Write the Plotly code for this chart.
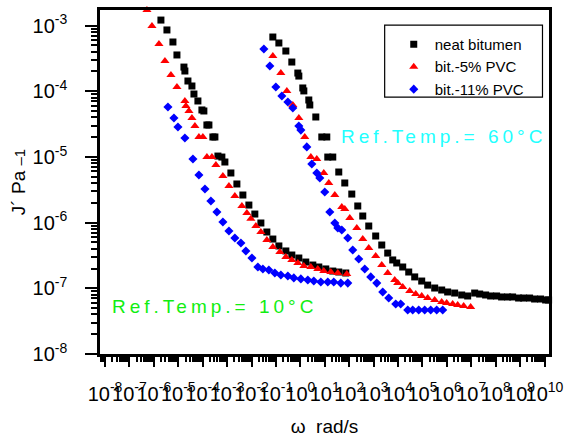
import plotly.graph_objects as go

# ---------------- data (omega in rad/s, J' in 1/Pa) ----------------
omega_neat_10C = [5.74e-7, 1.95e-6, 3.44e-6, 6.05e-6, 8.83e-6, 1.71e-5, 1.87e-5, 2.49e-5, 3.63e-5, 4.39e-5,
                  6.38e-5, 9.31e-5, 1.12e-4, 1.49e-4, 1.80e-4, 2.62e-4, 3.17e-4, 4.21e-4, 6.12e-4, 8.13e-4,
                  1.43e-3, 2.52e-3, 4.43e-3, 7.80e-3, 1.37e-2, 2.42e-2, 4.25e-2, 7.48e-2, 0.132, 0.255,
                  0.448, 0.867, 1.67, 3.24, 5.70, 11.0, 21.3, 37.5, 72.6]
jp_neat_10C = [2.05e-3, 1.21e-3, 8.55e-4, 5.61e-4, 3.56e-4, 2.33e-4, 2.03e-4, 1.43e-4, 1.20e-4, 9.06e-5,
               7.10e-5, 5.18e-5, 5.00e-5, 3.06e-5, 3.06e-5, 2.01e-5, 2.01e-5, 1.03e-5, 9.95e-6, 8.36e-6,
               5.69e-6, 3.87e-6, 2.63e-6, 1.85e-6, 1.35e-6, 9.86e-7, 7.19e-7, 5.62e-7, 4.41e-7, 3.70e-7,
               3.21e-7, 2.89e-7, 2.51e-7, 2.26e-7, 2.11e-7, 1.97e-7, 1.83e-7, 1.77e-7, 1.71e-7]
omega_neat_60C = [7.48e-2, 0.132, 0.255, 0.448, 0.789, 0.867, 1.26, 1.39, 2.22, 2.44,
                  4.30, 7.57, 12.1, 13.3, 21.3, 37.5, 66.1, 128, 225, 360,
                  634, 1.22e3, 2.16e3, 3.79e3, 6.08e3, 8.87e3, 1.56e4, 2.75e4, 4.83e4, 9.35e4,
                  1.64e5, 3.18e5, 6.15e5, 1.08e6, 2.09e6, 4.05e6, 7.13e6, 1.38e7, 2.21e7, 3.88e7,
                  6.22e7, 1.09e8, 1.75e8, 3.08e8, 4.94e8, 8.69e8, 1.39e9, 2.45e9, 3.93e9, 6.92e9,
                  1.11e10, 1.47e10]
jp_neat_60C = [6.68e-4, 5.42e-4, 4.09e-4, 2.78e-4, 1.89e-4, 1.70e-4, 1.12e-4, 1.01e-4, 7.35e-5, 6.17e-5,
               4.05e-5, 2.01e-5, 2.01e-5, 9.95e-6, 9.95e-6, 5.89e-6, 4.01e-6, 2.72e-6, 1.79e-6, 1.26e-6,
               8.87e-7, 6.25e-7, 4.56e-7, 3.44e-7, 2.70e-7, 2.43e-7, 2.11e-7, 1.77e-7, 1.49e-7, 1.29e-7,
               1.12e-7, 1.01e-7, 9.42e-8, 8.79e-8, 8.47e-8, 7.91e-8, 7.64e-8, 8.47e-8, 8.18e-8, 7.91e-8,
               7.64e-8, 7.64e-8, 7.38e-8, 7.38e-8, 7.38e-8, 7.11e-8, 7.11e-8, 7.11e-8, 6.87e-8, 6.87e-8,
               6.64e-8, 6.64e-8]

omega_pvc5_10C = [5.22e-7, 8.38e-7, 1.62e-6, 2.85e-6, 5.01e-6, 8.83e-6, 1.87e-5, 2.06e-5, 2.74e-5, 3.63e-5,
                  4.81e-5, 7.01e-5, 1.02e-4, 1.49e-4, 2.39e-4, 3.48e-4, 6.73e-4, 1.19e-3, 2.08e-3, 4.04e-3,
                  6.46e-3, 9.42e-3, 1.51e-2, 2.42e-2, 4.25e-2, 7.48e-2, 0.145, 0.255, 0.448, 0.789,
                  1.39, 2.69, 5.19, 9.14, 17.7, 34.2, 79.8]
jp_pvc5_10C = [1.72e-3, 9.82e-4, 5.22e-4, 2.88e-4, 1.77e-4, 1.16e-4, 7.10e-5, 5.96e-5, 5.00e-5, 3.91e-5,
               2.95e-5, 2.01e-5, 2.01e-5, 9.95e-6, 9.95e-6, 7.53e-6, 5.12e-6, 3.61e-6, 2.54e-6, 1.79e-6,
               1.40e-6, 1.14e-6, 8.87e-7, 7.19e-7, 5.43e-7, 4.26e-7, 3.57e-7, 2.99e-7, 2.70e-7, 2.43e-7,
               2.18e-7, 2.11e-7, 1.97e-7, 1.83e-7, 1.77e-7, 1.71e-7, 1.65e-7]
omega_pvc5_60C = [7.48e-2, 0.159, 0.280, 0.492, 0.867, 1.52, 2.69, 4.72, 9.14, 14.6,
                  25.8, 49.8, 66.1, 106, 205, 360, 634, 1.22e3, 2.16e3, 3.79e3,
                  7.35e3, 9.75e3, 1.56e4, 3.02e4, 5.31e4, 9.35e4, 1.64e5, 3.18e5, 6.15e5, 9.84e5,
                  1.73e6, 2.78e6, 4.89e6, 9.44e6]
jp_pvc5_60C = [3.44e-4, 1.89e-4, 1.01e-4, 6.17e-5, 3.91e-5, 2.01e-5, 9.95e-6, 9.29e-6, 5.69e-6, 4.01e-6,
               2.63e-6, 1.73e-6, 1.61e-6, 1.17e-6, 8.28e-7, 5.62e-7, 4.10e-7, 3.10e-7, 2.26e-7, 1.71e-7,
               1.34e-7, 1.20e-7, 1.05e-7, 9.10e-8, 8.18e-8, 7.64e-8, 7.11e-8, 6.64e-8, 6.18e-8, 5.97e-8,
               5.77e-8, 5.57e-8, 5.38e-8, 5.19e-8]

omega_pvc11_10C = [3.78e-6, 6.65e-6, 9.71e-6, 1.87e-5, 3.99e-5, 7.01e-5, 1.24e-4, 2.17e-4, 3.83e-4, 6.73e-4,
                   1.19e-3, 2.08e-3, 3.67e-3, 5.87e-3, 1.04e-2, 1.82e-2, 2.92e-2, 5.13e-2, 9.04e-2, 0.159,
                   0.308, 0.541, 1.05, 2.02, 3.56, 6.89, 13.3, 23.4, 45.3, 87.7]
jp_pvc11_10C = [5.75e-5, 3.91e-5, 2.85e-5, 1.94e-5, 9.29e-6, 5.30e-6, 3.24e-6, 2.13e-6, 1.45e-6, 1.02e-6,
                7.45e-7, 5.83e-7, 4.89e-7, 3.70e-7, 2.89e-7, 2.11e-7, 1.97e-7, 1.90e-7, 1.71e-7, 1.59e-7,
                1.54e-7, 1.44e-7, 1.39e-7, 1.34e-7, 1.29e-7, 1.25e-7, 1.25e-7, 1.25e-7, 1.20e-7, 1.20e-7]
omega_pvc11_60C = [3.21e-2, 5.64e-2, 9.93e-2, 0.175, 0.308, 0.492, 0.867, 1.05, 1.84, 2.95,
                   4.72, 6.27, 10.0, 16.1, 25.8, 34.2, 49.8, 87.7, 140, 247,
                   435, 766, 1.35e3, 2.37e3, 4.17e3, 8.07e3, 1.29e4, 2.50e4, 4.00e4, 7.05e4,
                   1.24e5, 2.18e5, 3.84e5, 6.76e5]
jp_pvc11_60C = [4.39e-4, 2.42e-4, 1.16e-4, 8.45e-5, 6.85e-5, 5.55e-5, 2.95e-5, 2.56e-5, 1.42e-5, 7.80e-6,
                5.69e-6, 4.78e-6, 2.92e-6, 1.45e-6, 9.86e-7, 8.28e-7, 7.71e-7, 5.83e-7, 3.83e-7, 2.79e-7,
                1.97e-7, 1.49e-7, 1.20e-7, 8.79e-8, 7.11e-8, 5.77e-8, 5.77e-8, 4.68e-8, 4.68e-8, 4.68e-8,
                4.68e-8, 4.68e-8, 4.68e-8, 4.68e-8]

series_names = ["neat bitumen", "bit.-5% PVC", "bit.-11% PVC"]

x_tick_vals = [1e-8, 1e-7, 1e-6, 1e-5, 1e-4, 1e-3, 1e-2, 1e-1, 1e0, 1e1,
               1e2, 1e3, 1e4, 1e5, 1e6, 1e7, 1e8, 1e9, 1e10]
x_tick_text = ["10<sup>-8</sup>", "10<sup>-7</sup>", "10<sup>-6</sup>", "10<sup>-5</sup>", "10<sup>-4</sup>",
               "10<sup>-3</sup>", "10<sup>-2</sup>", "10<sup>-1</sup>", "10<sup>0</sup>", "10<sup>1</sup>",
               "10<sup>2</sup>", "10<sup>3</sup>", "10<sup>4</sup>", "10<sup>5</sup>", "10<sup>6</sup>",
               "10<sup>7</sup>", "10<sup>8</sup>", "10<sup>9</sup>", "10<sup>10</sup>"]
y_tick_vals = [1e-8, 1e-7, 1e-6, 1e-5, 1e-4, 1e-3]
y_tick_text = ["10<sup>-8</sup>", "10<sup>-7</sup>", "10<sup>-6</sup>", "10<sup>-5</sup>",
               "10<sup>-4</sup>", "10<sup>-3</sup>"]

# minor tick positions (2..9 within each decade)
x_minor = [m * 10.0 ** e for e in range(-9, 11) for m in range(2, 10)]
y_minor = [m * 10.0 ** e for e in range(-9, -2) for m in range(2, 10)]

FONT = "Liberation Sans, Arial, sans-serif"

fig = go.Figure()
fig.add_trace(go.Scatter(x=omega_neat_10C + omega_neat_60C, y=jp_neat_10C + jp_neat_60C,
                         mode="markers", name=series_names[0], cliponaxis=False,
                         marker=dict(symbol="square", size=7, color="#000000")))
fig.add_trace(go.Scatter(x=omega_pvc5_10C + omega_pvc5_60C, y=jp_pvc5_10C + jp_pvc5_60C,
                         mode="markers", name=series_names[1], cliponaxis=False,
                         marker=dict(symbol="triangle-up", size=8, color="#ff0000")))
fig.add_trace(go.Scatter(x=omega_pvc11_10C + omega_pvc11_60C, y=jp_pvc11_10C + jp_pvc11_60C,
                         mode="markers", name=series_names[2], cliponaxis=False,
                         marker=dict(symbol="diamond", size=7, color="#0000ff")))

xr = [-8.205, 10.184]
yr = [-8.0, -2.764]

minor_x_out = dict(tickmode="array", tickvals=x_minor, ticks="outside", ticklen=5,
                   tickwidth=1.5, tickcolor="black", showgrid=False)
minor_y_out = dict(tickmode="array", tickvals=y_minor, ticks="outside", ticklen=6,
                   tickwidth=1.5, tickcolor="black", showgrid=False)
minor_x_in = dict(minor_x_out, ticks="inside")
minor_y_in = dict(minor_y_out, ticks="inside", ticklen=5)

fig.update_layout(
    width=566, height=441,
    margin=dict(l=100, r=16.5, t=10, b=87, autoexpand=False),
    paper_bgcolor="white", plot_bgcolor="white",
    font=dict(family=FONT, color="black"),
    showlegend=True,
    legend=dict(x=0.652, y=0.948, xanchor="left", yanchor="top",
                borderwidth=0, bgcolor="rgba(0,0,0,0)",
                font=dict(size=15, family=FONT), itemwidth=32, tracegroupgap=0),
    shapes=[dict(type="rect", xref="paper", yref="paper", x0=0.634, x1=0.9855, y0=0.747, y1=0.956,
                 line=dict(color="black", width=1.2), fillcolor="rgba(0,0,0,0)", layer="above")],
    xaxis=dict(type="log", range=xr, showgrid=False, zeroline=False, automargin=False,
               showline=True, linecolor="black", linewidth=2.5, mirror=True,
               ticks="outside", ticklen=10, tickwidth=2, tickcolor="black",
               tickvals=x_tick_vals, ticktext=x_tick_text, tickangle=0, ticklabelstandoff=10,
               tickfont=dict(size=20, family=FONT),
               minor=minor_x_out,
               title=dict(text="ω  rad/s", font=dict(size=19, family=FONT), standoff=16)),
    yaxis=dict(type="log", range=yr, showgrid=False, zeroline=False, automargin=False,
               showline=True, linecolor="black", linewidth=2.5, mirror=True,
               ticks="outside", ticklen=12, tickwidth=2, tickcolor="black",
               tickvals=y_tick_vals, ticktext=y_tick_text, ticklabelstandoff=14,
               tickfont=dict(size=20, family=FONT),
               minor=minor_y_out,
               title=dict(text="J´ Pa <span style='font-size:15px'>–1</span>",
                          font=dict(size=19, family=FONT), standoff=2)),
    xaxis2=dict(type="log", range=xr, overlaying="x", side="top", anchor="y", automargin=False,
                showgrid=False, zeroline=False, showline=False, showticklabels=False,
                ticks="inside", ticklen=10, tickwidth=2, tickcolor="black", tickvals=x_tick_vals,
                minor=minor_x_in),
    yaxis2=dict(type="log", range=yr, overlaying="y", side="right", anchor="x", automargin=False,
                showgrid=False, zeroline=False, showline=False, showticklabels=False,
                ticks="inside", ticklen=10, tickwidth=2, tickcolor="black", tickvals=y_tick_vals,
                minor=minor_y_in),
    annotations=[
        dict(text="<span style='letter-spacing:4px'>Ref.Temp.= 60°C</span>",
             xref="paper", yref="paper", x=0.5317, y=0.631, xanchor="left", yanchor="middle",
             showarrow=False, font=dict(size=19, color="#22ffff", family=FONT)),
        dict(text="<span style='letter-spacing:4px'>Ref.Temp.= 10°C</span>",
             xref="paper", yref="paper", x=0.0222, y=0.1395, xanchor="left", yanchor="middle",
             showarrow=False, font=dict(size=19, color="#11ee11", family=FONT)),
    ],
)

fig.write_html("out.html", config={"displayModeBar": False},
               post_script="document.body.style.margin='0';")
